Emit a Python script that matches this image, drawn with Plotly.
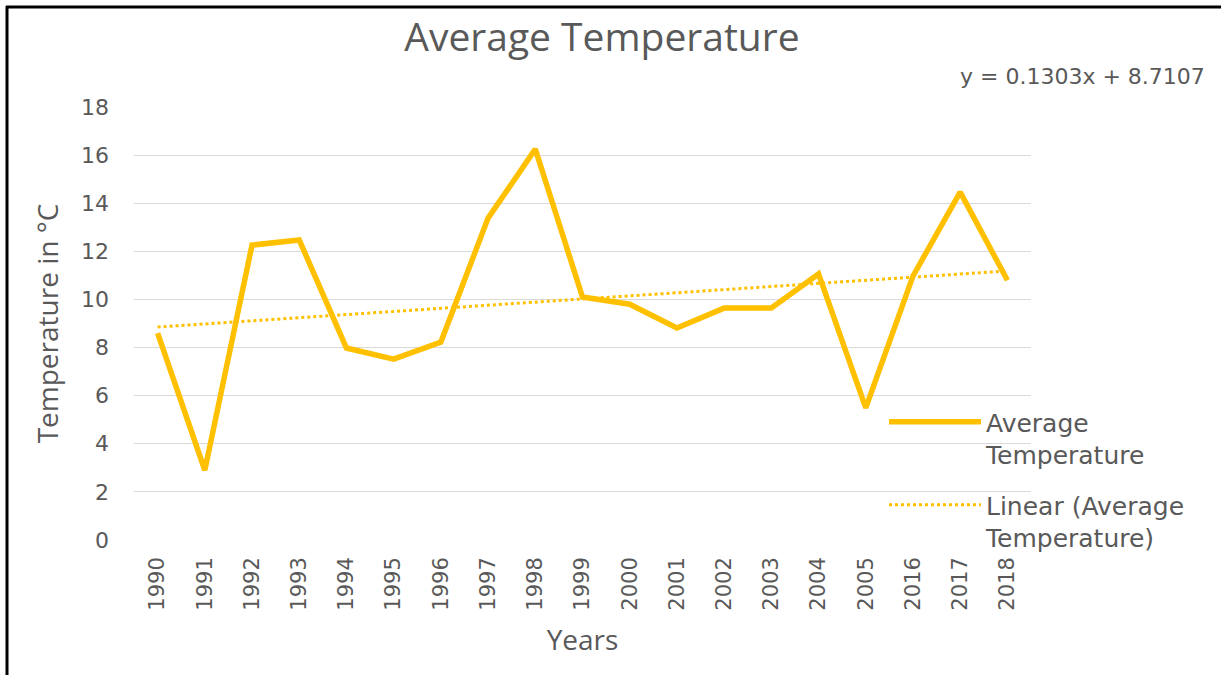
import numpy as np
import plotly.graph_objects as go

years = ["1990", "1991", "1992", "1993", "1994", "1995", "1996", "1997", "1998", "1999",
         "2000", "2001", "2002", "2003", "2004", "2005", "2016", "2017", "2018"]
avg_temp = [8.6, 2.9, 12.26, 12.47, 7.98, 7.52, 8.23, 13.38, 16.25, 10.1,
            9.8, 8.81, 9.64, 9.64, 11.06, 5.49, 10.97, 14.46, 10.8]
y_ticks = [0, 2, 4, 6, 8, 10, 12, 14, 16, 18]
equation_text = "y = 0.1303x + 8.7107"

# Linear trendline fitted to the series (Excel style: x = 1..n)
idx = np.arange(1, len(avg_temp) + 1)
slope, intercept = np.polyfit(idx, avg_temp, 1)
trend = slope * idx + intercept

W, H = 1221, 675
L, R, T, B = 134, 190, 107, 135
GRAY = "#595959"
GOLD = "#FFC000"
TITLE_FONT = "Open Sans"
BODY_FONT = "DejaVu Sans"

fig = go.Figure()
fig.add_trace(go.Scatter(
    x=years, y=avg_temp, mode="lines", name="Average<br>Temperature",
    legendgroup="a", line=dict(color=GOLD, width=5.5),
))
fig.add_trace(go.Scatter(
    x=years, y=trend, mode="lines", name="Linear (Average<br>Temperature)",
    legendgroup="b", line=dict(color=GOLD, width=3, dash="dot"),
))

def px_x(px):
    return (px - L) / (W - L - R)

def px_y(py):
    return (H - B - py) / (H - T - B)

fig.update_layout(
    width=W, height=H,
    margin=dict(l=L, r=R, t=T, b=B),
    paper_bgcolor="white", plot_bgcolor="white",
    font=dict(family=BODY_FONT, color=GRAY, size=22),
    title=dict(text="Average Temperature", x=0.493, xanchor="center",
               y=1 - 37 / H, yanchor="middle",
               font=dict(family=TITLE_FONT, size=39, color=GRAY)),
    showlegend=True,
    legend=dict(x=px_x(884), y=px_y(399), xanchor="left", yanchor="top",
                valign="top", bgcolor="rgba(0,0,0,0)",
                font=dict(family=BODY_FONT, size=25, color=GRAY),
                tracegroupgap=15, itemwidth=92),
    xaxis=dict(type="category", range=[-0.5, len(years) - 0.5],
               tickangle=-90, showgrid=False, showline=False, zeroline=False,
               ticks="", ticklabelstandoff=12,
               tickfont=dict(family=BODY_FONT, size=21, color=GRAY),
               title=dict(text="Years", standoff=20,
                          font=dict(family=TITLE_FONT, size=28, color=GRAY))),
    yaxis=dict(range=[0, 18], tickvals=y_ticks, showgrid=True,
               gridcolor="#D9D9D9", gridwidth=1, zeroline=False,
               showline=False, ticks="", ticklabelstandoff=24,
               tickfont=dict(family=BODY_FONT, size=22, color=GRAY),
               title=dict(text="Temperature in °C", standoff=14,
                          font=dict(family=TITLE_FONT, size=28, color=GRAY))),
    annotations=[dict(text=equation_text, xref="paper", yref="paper",
                      x=px_x(1207), y=px_y(76), xanchor="right", yanchor="middle",
                      showarrow=False, font=dict(family=BODY_FONT, size=22, color=GRAY))],
    shapes=[
        dict(type="line", xref="paper", yref="paper",
             x0=px_x(6), x1=px_x(W + 5), y0=px_y(7), y1=px_y(7),
             line=dict(color="black", width=3)),
        dict(type="line", xref="paper", yref="paper",
             x0=px_x(7), x1=px_x(7), y0=px_y(6), y1=px_y(H + 5),
             line=dict(color="black", width=3)),
    ],
)

fig.write_html("out.html", config={"displayModeBar": False},
               post_script="document.body.style.margin='0px';")
